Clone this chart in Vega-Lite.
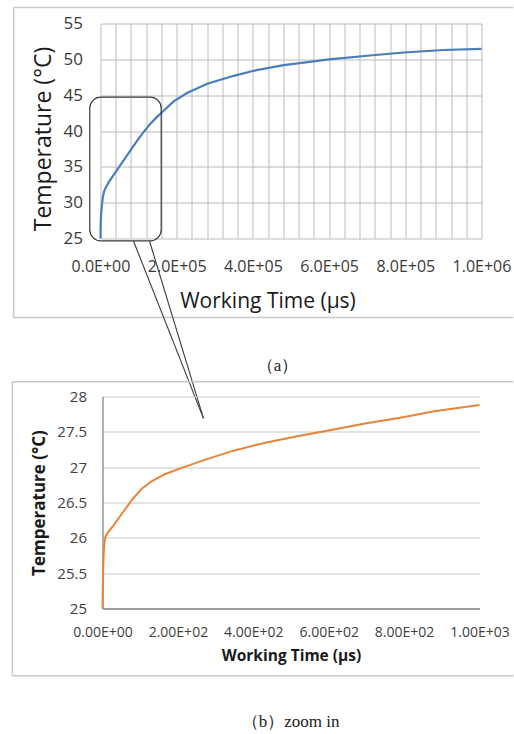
{
  "$schema": "https://vega.github.io/schema/vega-lite/v6.json",
  "background": "white",
  "padding": {"left": 11.5, "top": 6.5, "right": 0, "bottom": 0},
  "config": {"view": {"stroke": null}, "font": "Open Sans"},
  "datasets": {
    "curveA": [
      {"t": 0, "temp": 25}, {"t": 300, "temp": 26.5}, {"t": 1000, "temp": 27.9}, {"t": 3000, "temp": 29.3},
      {"t": 6000, "temp": 30.7}, {"t": 9000, "temp": 31.5}, {"t": 13000, "temp": 32.0}, {"t": 22000, "temp": 32.9},
      {"t": 40000, "temp": 34.3}, {"t": 58000, "temp": 35.7}, {"t": 76000, "temp": 37.1}, {"t": 93000, "temp": 38.4},
      {"t": 111000, "temp": 39.7}, {"t": 129000, "temp": 40.9}, {"t": 147000, "temp": 41.9}, {"t": 165000, "temp": 42.8},
      {"t": 191000, "temp": 44.1}, {"t": 227000, "temp": 45.3}, {"t": 280000, "temp": 46.6}, {"t": 350000, "temp": 47.7},
      {"t": 402000, "temp": 48.4}, {"t": 481000, "temp": 49.2}, {"t": 600000, "temp": 50.0}, {"t": 700000, "temp": 50.5},
      {"t": 796000, "temp": 50.95}, {"t": 900000, "temp": 51.3}, {"t": 1000000, "temp": 51.45}
    ],
    "curveB": [
      {"t": 0, "temp": 25}, {"t": 1, "temp": 25.35}, {"t": 2, "temp": 25.6}, {"t": 3, "temp": 25.78},
      {"t": 5, "temp": 25.93}, {"t": 8, "temp": 26.02}, {"t": 15, "temp": 26.08}, {"t": 30, "temp": 26.18},
      {"t": 50, "temp": 26.33}, {"t": 80, "temp": 26.55}, {"t": 105, "temp": 26.7}, {"t": 130, "temp": 26.8},
      {"t": 165, "temp": 26.9}, {"t": 210, "temp": 26.99}, {"t": 275, "temp": 27.11}, {"t": 345, "temp": 27.23},
      {"t": 435, "temp": 27.35}, {"t": 520, "temp": 27.44}, {"t": 610, "temp": 27.53}, {"t": 700, "temp": 27.62},
      {"t": 790, "temp": 27.7}, {"t": 880, "temp": 27.79}, {"t": 1000, "temp": 27.88}
    ],
    "frameA": [
      {"t": -228000, "t2": 1084000, "temp": 57.23, "temp2": 57.23},
      {"t": -228000, "t2": -228000, "temp": 13.98, "temp2": 57.23},
      {"t": -228000, "t2": 1084000, "temp": 13.98, "temp2": 13.98}
    ],
    "frameB": [
      {"t": -239, "t2": 1090, "temp": 28.21, "temp2": 28.21},
      {"t": -239, "t2": -239, "temp": 24.05, "temp2": 28.21},
      {"t": -239, "t2": 1090, "temp": 24.05, "temp2": 24.05}
    ],
    "calloutBox": [{"t": -28100, "t2": 159300, "temp": 24.68, "temp2": 44.72}],
    "calloutLines": [
      {"t": 86600, "temp": 24.65, "t2": 270300, "temp2": -0.1},
      {"t": 128600, "temp": 24.65, "t2": 270300, "temp2": -0.1}
    ],
    "captionA": [{"t": 464600, "temp": 7.15, "label": "（a）"}],
    "captionB": [{"t": 498.7, "temp": 23.4, "label": "（b）zoom in"}]
  },
  "vconcat": [
    {
      "width": 381,
      "height": 215,
      "encoding": {
        "x": {
          "field": "t", "type": "quantitative",
          "scale": {"domain": [0, 1000000], "nice": false, "zero": false},
          "axis": {
            "values": [0, 40000, 80000, 120000, 160000, 200000, 240000, 280000, 320000, 360000, 400000, 440000, 480000, 520000, 560000, 600000, 640000, 680000, 720000, 760000, 800000, 840000, 880000, 920000, 960000, 1000000],
            "labelExpr": "datum.value % 200000 == 0 ? replace(format(datum.value, '.1e'), 'e+', 'E+0') : ''",
            "grid": true, "gridColor": "#bcbcbc", "gridWidth": 1,
            "ticks": false, "tickSize": 0, "domain": false,
            "labelFont": "Open Sans", "labelFontSize": 16, "labelColor": "#3a3a3a", "labelPadding": 20,
            "labelFlush": false, "labelOverlap": false,
            "title": "Working Time (µs)", "titleFont": "Open Sans", "titleFontSize": 21, "titleFontWeight": "normal", "titleColor": "#1a1a1a", "titlePadding": 16,
            "titleX": 167
          }
        },
        "y": {
          "field": "temp", "type": "quantitative",
          "scale": {"domain": [25, 55], "nice": false, "zero": false},
          "axis": {
            "values": [25, 30, 35, 40, 45, 50, 55],
            "grid": true, "gridColor": "#bcbcbc", "gridWidth": 1,
            "ticks": false, "tickSize": 0, "domain": false,
            "labelFont": "Open Sans", "labelFontSize": 17, "labelColor": "#3a3a3a", "labelPadding": 18,
            "labelFlush": false, "labelOverlap": false,
            "title": "Temperature (°C)", "titleFont": "Open Sans", "titleFontSize": 23, "titleFontWeight": "normal", "titleColor": "#1a1a1a", "titlePadding": 8,
            "titleY": 115
          }
        }
      },
      "layer": [
        {
          "data": {"name": "frameA"},
          "mark": {"type": "rule", "color": "#c8c8c8", "strokeWidth": 1.5},
          "encoding": {"x2": {"field": "t2"}, "y2": {"field": "temp2"}}
        },
        {
          "data": {"name": "curveA"},
          "mark": {"type": "line", "color": "#4a7ebb", "strokeWidth": 2.2}
        },
        {
          "data": {"name": "calloutBox"},
          "mark": {"type": "rect", "filled": false, "stroke": "#3a3a3a", "strokeWidth": 1.2, "cornerRadius": 11},
          "encoding": {"x2": {"field": "t2"}, "y2": {"field": "temp2"}}
        },
        {
          "data": {"name": "calloutLines"},
          "mark": {"type": "rule", "color": "#3a3a3a", "strokeWidth": 1.1},
          "encoding": {"x2": {"field": "t2"}, "y2": {"field": "temp2"}}
        },
        {
          "data": {"name": "captionA"},
          "mark": {"type": "text", "font": "Liberation Serif", "fontSize": 17, "color": "#222222", "align": "center", "baseline": "middle"},
          "encoding": {"text": {"field": "label"}}
        }
      ]
    },
    {
      "width": 377,
      "height": 212,
      "encoding": {
        "x": {
          "field": "t", "type": "quantitative",
          "scale": {"domain": [0, 1000], "nice": false, "zero": false},
          "axis": {
            "values": [0, 200, 400, 600, 800, 1000],
            "labelExpr": "replace(format(datum.value, '.2e'), 'e+', 'E+0')",
            "grid": false,
            "ticks": false, "tickSize": 0, "domain": true, "domainColor": "#868686", "domainWidth": 1.3,
            "labelFont": "Open Sans", "labelFontSize": 14, "labelColor": "#404040", "labelPadding": 17,
            "labelFlush": false, "labelOverlap": false,
            "title": "Working Time (µs)", "titleFont": "Open Sans", "titleFontSize": 15.5, "titleFontWeight": "bold", "titleColor": "#1a1a1a", "titlePadding": 9
          }
        },
        "y": {
          "field": "temp", "type": "quantitative",
          "scale": {"domain": [25, 28], "nice": false, "zero": false},
          "axis": {
            "values": [25, 25.5, 26, 26.5, 27, 27.5, 28],
            "format": "~g",
            "grid": true, "gridColor": "#c8c8c8", "gridWidth": 1,
            "ticks": false, "tickSize": 0, "domain": true, "domainColor": "#868686", "domainWidth": 1.3,
            "labelFont": "Open Sans", "labelFontSize": 15, "labelColor": "#404040", "labelPadding": 16,
            "labelFlush": false, "labelOverlap": false,
            "title": "Temperature (°C)", "titleFont": "Open Sans", "titleFontSize": 17, "titleFontWeight": "bold", "titleColor": "#1a1a1a", "titlePadding": 8
          }
        }
      },
      "layer": [
        {
          "data": {"name": "frameB"},
          "mark": {"type": "rule", "color": "#c8c8c8", "strokeWidth": 1.5},
          "encoding": {"x2": {"field": "t2"}, "y2": {"field": "temp2"}}
        },
        {
          "data": {"name": "curveB"},
          "mark": {"type": "line", "color": "#e8843a", "strokeWidth": 2}
        },
        {
          "data": {"name": "captionB"},
          "mark": {"type": "text", "font": "Liberation Serif", "fontSize": 17, "color": "#222222", "align": "center", "baseline": "middle"},
          "encoding": {"text": {"field": "label"}}
        }
      ]
    }
  ],
  "spacing": 158,
  "bounds": "flush",
  "center": true
}
